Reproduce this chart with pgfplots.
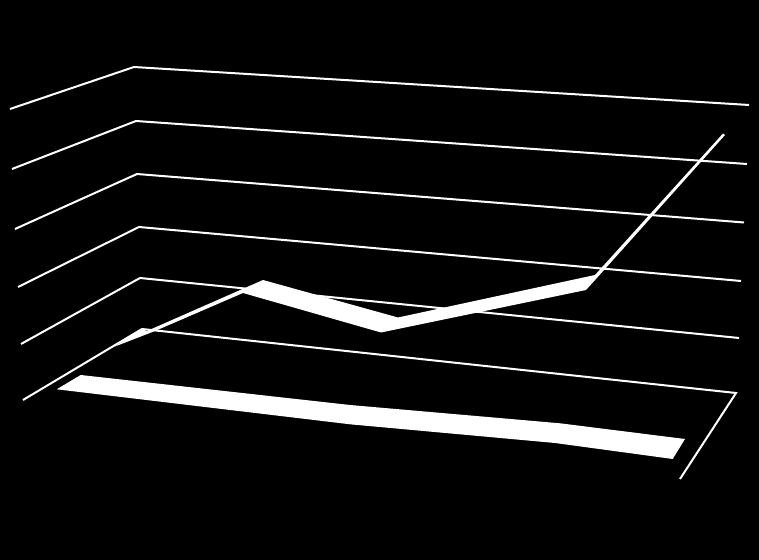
\documentclass[border=0pt]{standalone}
\usepackage{pgfplots}
\pgfplotsset{compat=1.18}
\tikzset{gridline/.style={draw=white, solid, line width=2bp, mark=none, line join=miter}}
\begin{document}
\begin{tikzpicture}
\begin{axis}[
    scale only axis,
    width=759bp, height=560bp,
    xmin=0, xmax=759,
    ymin=0, ymax=560,
    y dir=reverse,
    ticks=none,
    axis line style={draw=none},
    axis background/.style={fill=black},
]
% back wall grid
\addplot[gridline] coordinates {(10,109)(134,67)(749,105)};
\addplot[gridline] coordinates {(12,169)(136,121)(747,164)};
\addplot[gridline] coordinates {(15,229)(137,174)(744,222.5)};
\addplot[gridline] coordinates {(18,287)(139,227)(741,281)};
\addplot[gridline] coordinates {(21,344)(140,278)(739,338)};
% floor
\addplot[gridline] coordinates {(23,400)(142,329)(736,393)(680,479)};
% front ribbon
\addplot[fill=white, draw=none, mark=none] coordinates {
    (80.7,375)(350,405)(560,423.3)(685,439)
    (672.7,459)(555,443)(350,424.3)(56.7,389.3)} -- cycle;
% back ribbon
\addplot[fill=white, draw=none, mark=none] coordinates {
    (115,346.5)(141.7,329)(147,331)(263,280)(398,317.5)(595,275)(723,133.5)
    (725,135)(600,274.5)(586,290)(381,332.5)(243,293)(155,331)} -- cycle;
\end{axis}
\end{tikzpicture}
\end{document}
